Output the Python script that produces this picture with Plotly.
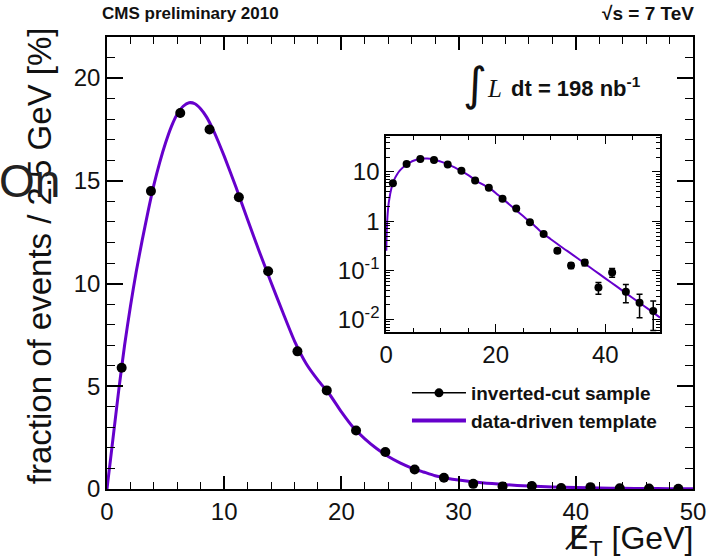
import plotly.graph_objects as go

# ---- data: inverted-cut sample (bin centres, 2.5 GeV bins) ----
met_bins = [1.25, 3.75, 6.25, 8.75, 11.25, 13.75, 16.25, 18.75, 21.25, 23.75,
            26.25, 28.75, 31.25, 33.75, 36.25, 38.75, 41.25, 43.75, 46.25, 48.75]
sample_frac = [5.9, 14.5, 18.3, 17.5, 14.2, 10.6, 6.7, 4.8, 2.85, 1.8,
               0.95, 0.55, 0.25, 0.126, 0.145, 0.045, 0.091, 0.037, 0.022, 0.015]
sample_err = [0.10, 0.16, 0.22, 0.22, 0.20, 0.17, 0.13, 0.11, 0.085, 0.065,
              0.05, 0.036, 0.025, 0.016, 0.02, 0.012, 0.018, 0.015, 0.011, 0.009]

# ---- data: data-driven template curve ----
tmpl_x = [0, 0.05, 0.1, 0.25, 0.5, 1, 1.5, 2, 2.5, 3, 3.5, 4, 4.5, 5, 5.5, 6, 6.5, 7,
          7.5, 8, 8.5, 9, 9.5, 10, 11, 12, 13, 14, 15, 16, 17, 18, 19, 20, 21, 22,
          23, 24, 25, 26, 27, 28, 29, 30, 32, 34, 36, 38, 40, 42, 44, 46, 48, 50]
tmpl_y = [0, 0.25, 0.5, 1.2, 2.4, 4.8, 7.0, 8.9, 10.6, 12.1, 13.5, 14.8, 15.9,
          16.85, 17.65, 18.25, 18.63, 18.8, 18.75, 18.5, 18.1, 17.55, 16.9, 16.2,
          14.7, 13.1, 11.55, 10.05, 8.6, 7.2, 6.1, 5.3, 4.6, 3.75, 3.0, 2.44,
          1.97, 1.58, 1.27, 1.02, 0.83, 0.645, 0.526, 0.436, 0.30, 0.21, 0.145,
          0.10, 0.069, 0.048, 0.033, 0.023, 0.016, 0.011]

# ---- axis ticks ----
main_x_ticks = [0, 10, 20, 30, 40, 50]
main_y_ticks = [0, 5, 10, 15, 20]
inset_x_ticks = [0, 20, 40]
inset_y_ticks = [0.01, 0.1, 1, 10]
inset_y_labels = ["10<sup>-2</sup>", "10<sup>-1</sup>", "1", "10"]
inset_y_minor = [m * 10 ** e for e in range(-3, 2) for m in range(2, 10)]

PURPLE = "#6600cc"
FONT = "Liberation Sans"
TXT = "#111111"

W, H = 718, 560
L, R, T, B = 107, 23, 37, 71
PW, PH = W - L - R, H - T - B


def px(xp):
    return (xp - L) / PW


def py(yp):
    return (H - B - yp) / PH


fig = go.Figure()

# main panel
fig.add_trace(go.Scatter(x=tmpl_x, y=tmpl_y, mode="lines",
                         line=dict(color=PURPLE, width=3, shape="spline", smoothing=0.6),
                         xaxis="x", yaxis="y", showlegend=False))
fig.add_trace(go.Scatter(x=met_bins, y=sample_frac, mode="markers",
                         marker=dict(color="black", size=10),
                         error_y=dict(type="data", array=sample_err, color="black", thickness=2, width=0),
                         xaxis="x", yaxis="y", showlegend=False))

# inset panel
fig.add_trace(go.Scatter(x=tmpl_x[1:], y=tmpl_y[1:], mode="lines",
                         line=dict(color=PURPLE, width=2, shape="spline", smoothing=0.6),
                         xaxis="x2", yaxis="y2", showlegend=False))
fig.add_trace(go.Scatter(x=met_bins, y=sample_frac, mode="markers",
                         marker=dict(color="black", size=8),
                         error_y=dict(type="data", array=sample_err, color="black", thickness=1.5, width=3),
                         xaxis="x2", yaxis="y2", showlegend=False))

# legend entries
fig.add_trace(go.Scatter(x=[None], y=[None], mode="lines+markers", name="<b>inverted-cut sample</b>",
                         line=dict(color="black", width=1.5), marker=dict(color="black", size=9)))
fig.add_trace(go.Scatter(x=[None], y=[None], mode="lines", name="<b>data-driven template</b>",
                         line=dict(color=PURPLE, width=4)))

axis_common = dict(showline=True, linecolor="black", linewidth=1.5, mirror="allticks",
                   ticks="inside", tickcolor="black", showgrid=False, zeroline=False,
                   tickfont=dict(family=FONT, size=24, color=TXT))

fig.update_layout(
    width=W, height=H, margin=dict(l=L, r=R, t=T, b=B),
    paper_bgcolor="white", plot_bgcolor="white",
    xaxis=dict(domain=[0, 1], range=[0, 50], anchor="y", tickmode="array", tickvals=main_x_ticks,
               ticklen=13, tickwidth=1.5,
               minor=dict(ticks="inside", dtick=2, ticklen=7, tickcolor="black", tickwidth=1.2),
               **axis_common),
    yaxis=dict(domain=[0, 1], range=[0, 22], anchor="x", tickmode="array", tickvals=main_y_ticks,
               ticklen=16, tickwidth=1.5,
               minor=dict(ticks="inside", dtick=1, ticklen=8, tickcolor="black", tickwidth=1.2),
               **axis_common),
    xaxis2=dict(domain=[px(387), px(662)], range=[0, 50], anchor="y2", tickmode="array",
                tickvals=inset_x_ticks, ticklen=8, tickwidth=1.2,
                minor=dict(ticks="inside", dtick=5, ticklen=4, tickcolor="black", tickwidth=1),
                **axis_common),
    yaxis2=dict(domain=[py(332), py(136)], type="log", range=[-2.25, 1.73], anchor="x2",
                tickmode="array", tickvals=inset_y_ticks, ticktext=inset_y_labels,
                ticklen=8, tickwidth=1.2,
                minor=dict(ticks="inside", tickmode="array", tickvals=inset_y_minor, ticklen=4,
                           tickcolor="black", tickwidth=1),
                **axis_common),
    legend=dict(x=px(408), y=py(374), xanchor="left", yanchor="top", bgcolor="rgba(0,0,0,0)",
                font=dict(family=FONT, size=19, color=TXT), itemwidth=54, tracegroupgap=0),
    showlegend=True,
)

ann = [
    dict(text="fraction of events / 2.5 GeV [%]", x=px(39), y=py(256), textangle=-90,
         font=dict(family=FONT, size=33, color=TXT)),
    dict(text="<span style='font-family:DejaVu Sans'>E\u0338</span><sub>T</sub> [GeV]",
         x=px(697), y=py(540), xanchor="right",
         font=dict(family=FONT, size=32, color=TXT)),
    dict(text="<b>CMS preliminary 2010</b>", x=px(100), y=py(14), xanchor="left",
         font=dict(family=FONT, size=17, color=TXT)),
    dict(text="<b>\u221as = 7 TeV</b>", x=px(698), y=py(14), xanchor="right",
         font=dict(family=FONT, size=19, color=TXT)),
    dict(text="\u222b", x=px(476), y=py(84), font=dict(family="DejaVu Sans", size=46, color=TXT)),
    dict(text="<i>L</i>", x=px(496), y=py(88), font=dict(family="Liberation Serif", size=25, color=TXT)),
    dict(text="<b>dt = 198 nb<sup>-1</sup></b>", x=px(510), y=py(87), xanchor="left",
         font=dict(family=FONT, size=22, color=TXT)),
    dict(text="On", x=px(-3), y=py(181), xanchor="left", font=dict(family=FONT, size=46, color="#222222")),
]
for a in ann:
    a.setdefault("xanchor", "center")
    a.update(xref="paper", yref="paper", showarrow=False, yanchor="middle")
fig.update_layout(annotations=ann)

fig.write_html("out.html")
